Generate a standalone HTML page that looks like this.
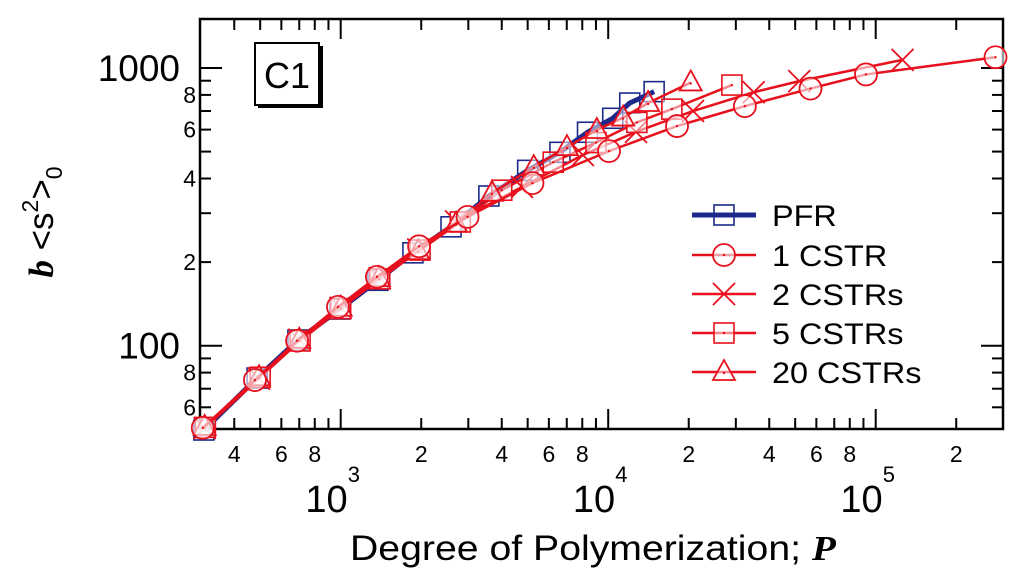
<!DOCTYPE html>
<html><head><meta charset="utf-8"><style>
html,body{margin:0;padding:0;background:#fff;}
svg{display:block;font-family:"Liberation Sans",sans-serif;}
</style></head><body>
<svg id="chart" width="1024" height="576" viewBox="0 0 1024 576"></svg>
<script>
const seriesNames = ["PFR","1 CSTR","2 CSTRs","5 CSTRs","20 CSTRs"];
const pfrX = [308,487,692,994,1378,1862,2585,3580,5000,6600,8370,10400,12040,14850];
const pfrY = [49.7,76.5,104.8,135.5,172,216,268,346,428,497,587,659,748,822];
const cstr1X = [305,478,687,977,1366,1963,2980,5210,10070,18080,32430,57050,92000,280500];
const cstr1Y = [50.6,75.2,104.2,138,177,228,291,385,502,618,729,843,948,1093];
const cstr2X = [310,495,700,1000,1400,1950,2700,4760,8040,12700,20760,35000,51800,126000];
const cstr2Y = [50.5,76,105,137,175,222,280,373,486,589,700,818,897,1070];
const cstr5X = [312,500,705,1000,1400,1980,2800,4000,6230,9000,12800,17300,29000];
const cstr5Y = [50.8,77,104,136,174,221,279,363,458,539,637,711,868];
const cstr20X = [310,495,700,1000,1390,1950,2700,3680,5270,7010,9070,11370,14100,20350];
const cstr20Y = [51,77,105,137,175,219,275,355,440,519,598,663,748,887];
const xMinorLabels = ["4","6","8","2","4","6","8","2","4","6","8","2"];
const xMinorVals = [400,600,800,2000,4000,6000,8000,20000,40000,60000,80000,200000];
const xMajorExp = ["3","4","5"];
const yMajorVals = [100,1000];
const yMinorLabelVals = [60,80,200,400,600,800];

const NS="http://www.w3.org/2000/svg";
const svg=document.getElementById('chart');
const L=200,R=1003,T=19,B=429;
function xs(v){return 340.7+(Math.log10(v)-3)*267.5;}
function ys(v){return 345.7-(Math.log10(v)-2)*277.7;}
function mk(tag,attrs,parent){const e=document.createElementNS(NS,tag);for(const k in attrs)e.setAttribute(k,attrs[k]);(parent||svg).appendChild(e);return e;}
function stretch(t,k){const w=t.getComputedTextLength();t.setAttribute('textLength',w*k);t.setAttribute('lengthAdjust','spacingAndGlyphs');}

const frame=mk('rect',{x:L,y:T,width:R-L,height:B-T,fill:'none',stroke:'#000','stroke-width':2.5});



const xt=mk('g',{stroke:'#000','stroke-width':2});


for(let d=2;d<=5;d++){for(let m=1;m<10;m++){const v=m*Math.pow(10,d);const x=xs(v);if(x<L+1||x>R-1)continue;const len=m===1?20:11;
mk('line',{x1:x,y1:B,x2:x,y2:B-len},xt);mk('line',{x1:x,y1:T,x2:x,y2:T+len},xt);}}
const yt=mk('g',{stroke:'#000','stroke-width':2});


for(let d=1;d<=3;d++){for(let m=1;m<10;m++){const v=m*Math.pow(10,d);const y=ys(v);if(y<T+1||y>B-1)continue;const len=m===1?22:11;
mk('line',{x1:L,y1:y,x2:L+len,y2:y},yt);mk('line',{x1:R,y1:y,x2:R-len,y2:y},yt);}}

xMinorVals.forEach((v,i)=>{const t=mk('text',{x:xs(v),y:462,'font-size':23,'text-anchor':'middle'});t.textContent=xMinorLabels[i];

});
xMajorExp.forEach(e=>{const t=mk('text',{x:xs(Math.pow(10,+e))-8,y:512,'font-size':38,'text-anchor':'middle'});t.innerHTML='10<tspan dy="-30" font-size="22">'+e+'</tspan>';

});
yMajorVals.forEach(v=>{const t=mk('text',{x:180,y:ys(v)+13,'font-size':37,'text-anchor':'end'});t.textContent=String(v);

});
yMinorLabelVals.forEach(v=>{const t=mk('text',{x:196,y:ys(v)+8,'font-size':23,'text-anchor':'end'});t.textContent=String(v/Math.pow(10,Math.floor(Math.log10(v))));

});

const xtl=mk('text',{x:350,y:560,'font-size':35});
xtl.innerHTML='Degree of Polymerization; <tspan font-family="Liberation Serif,serif" font-weight="bold" font-style="italic">P</tspan>';


stretch(xtl,1.12);
const ytl=mk('text',{x:0,y:0,'font-size':35,'text-anchor':'middle',transform:'translate(53,222) rotate(-90)'});
ytl.innerHTML='<tspan font-family="Liberation Serif,serif" font-weight="bold" font-style="italic">b</tspan> &lt;s<tspan dy="-15" font-size="23">2</tspan><tspan dy="15">&gt;</tspan><tspan dy="9" font-size="23">0</tspan>';



const cb=mk('g',{});


mk('rect',{x:258,y:46,width:65,height:62,fill:'#000'},cb);
mk('rect',{x:255,y:43,width:64,height:62,fill:'#fff',stroke:'#000','stroke-width':2},cb);
const ct=mk('text',{x:287,y:88,'font-size':36,'text-anchor':'middle'},cb);ct.textContent='C1';

const RED='#e8101c',BLUE='#1c2a8c';
function marker(type,x,y,col,g){
 if(type==='sq'){mk('rect',{x:x-10,y:y-10,width:20,height:20,fill:'none',stroke:col,'stroke-width':1.6},g);}
 else if(type==='sqd'){mk('rect',{x:x-10,y:y-10,width:20,height:20,fill:'#fff','fill-opacity':0.5,stroke:col,'stroke-width':1.6},g);mk('circle',{cx:x,cy:y,r:1.2,fill:col},g);}
 else if(type==='c'){mk('circle',{cx:x,cy:y,r:11,fill:'#fff','fill-opacity':0.6,stroke:col,'stroke-width':1.8},g);mk('circle',{cx:x,cy:y,r:1.2,fill:col},g);}
 else if(type==='x'){mk('path',{d:`M${x-11},${y-11}L${x+11},${y+11}M${x-11},${y+11}L${x+11},${y-11}`,stroke:col,'stroke-width':1.8,fill:'none'},g);}
 else if(type==='t'){mk('path',{d:`M${x},${y-12}L${x+11},${y+8}L${x-11},${y+8}Z`,fill:'#fff','fill-opacity':0.5,stroke:col,'stroke-width':1.8},g);mk('circle',{cx:x,cy:y+1,r:1.2,fill:col},g);}
}
const series=[
 {xs:pfrX,ys:pfrY,col:BLUE,w:5,m:'sq',name:'series-pfr'},
 {xs:cstr2X,ys:cstr2Y,col:RED,w:2.5,m:'x',name:'series-2-cstrs'},
 {xs:cstr5X,ys:cstr5Y,col:RED,w:2.5,m:'sqd',name:'series-5-cstrs'},
 {xs:cstr20X,ys:cstr20Y,col:RED,w:2.5,m:'t',name:'series-20-cstrs'},
 {xs:cstr1X,ys:cstr1Y,col:RED,w:2.5,m:'c',name:'series-1-cstr'}
];
series.forEach(s=>{
 const g=mk('g',{});
 
 
 const pts=s.xs.map((v,i)=>xs(v)+','+ys(s.ys[i])).join(' ');
 mk('polyline',{points:pts,fill:'none',stroke:s.col,'stroke-width':s.w,'stroke-linejoin':'round'},g);
 s.xs.forEach((v,i)=>marker(s.m,xs(v),ys(s.ys[i]),s.col,g));
});

const lg=mk('g',{});


const legM=['sq','c','x','sqd','t'],legC=[BLUE,RED,RED,RED,RED],legW=[5,2.5,2.5,2.5,2.5],legY=[215,255,294,333,372];
seriesNames.forEach((n,i)=>{
 const e=mk('g',{},lg);
 
 
 mk('line',{x1:692,y1:legY[i],x2:756,y2:legY[i],stroke:legC[i],'stroke-width':legW[i]},e);
 marker(legM[i],724,legY[i],legC[i],e);
 const t=mk('text',{x:772,y:legY[i]+11,'font-size':30},e);t.textContent=n;
 stretch(t,1.08);
});
</script>
</body></html>
